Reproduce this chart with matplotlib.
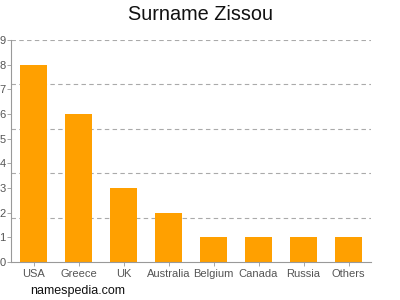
import matplotlib
matplotlib.use("Agg")
import matplotlib.pyplot as plt

countries = ["USA", "Greece", "UK", "Australia", "Belgium", "Canada", "Russia", "Others"]
counts = [8, 6, 3, 2, 1, 1, 1, 1]
y_ticks = list(range(0, 10))
grid_levels = [1.8, 3.6, 5.4, 7.2, 9]

plt.rcParams['font.family'] = ['Liberation Sans', 'DejaVu Sans']

fig = plt.figure(figsize=(4, 3), dpi=100)
ax = fig.add_axes([0.0275, 0.1267, 0.9, 0.74])

x = range(len(countries))
ax.bar(x, counts, width=0.62, color="#FFA000", zorder=2)

for g in grid_levels:
    ax.axhline(g, color="#aaaaaa", lw=0.8, ls=(0, (4, 3)), zorder=1)

ax.set_xlim(-0.5, len(countries) - 0.5)
ax.set_ylim(0, 9)
ax.set_yticks(y_ticks)
ax.set_xticks(list(x))
ax.set_xticklabels(countries)

for s in ["top", "right"]:
    ax.spines[s].set_visible(False)
for s in ["left", "bottom"]:
    ax.spines[s].set_color("#999999")
    ax.spines[s].set_linewidth(0.8)

ax.tick_params(axis="both", colors="#999999", labelcolor="#555555",
               labelsize=8, length=3, width=0.6, pad=2)
ax.tick_params(axis="y", pad=1)

fig.text(0.5, 0.952, "Surname Zissou", ha="center", va="center", fontsize=14.3, color="#111111")
fig.text(0.075, 0.03, "namespedia.com", ha="left", va="center", fontsize=9, color="#111111")

fig.savefig("out.png", dpi=100)
